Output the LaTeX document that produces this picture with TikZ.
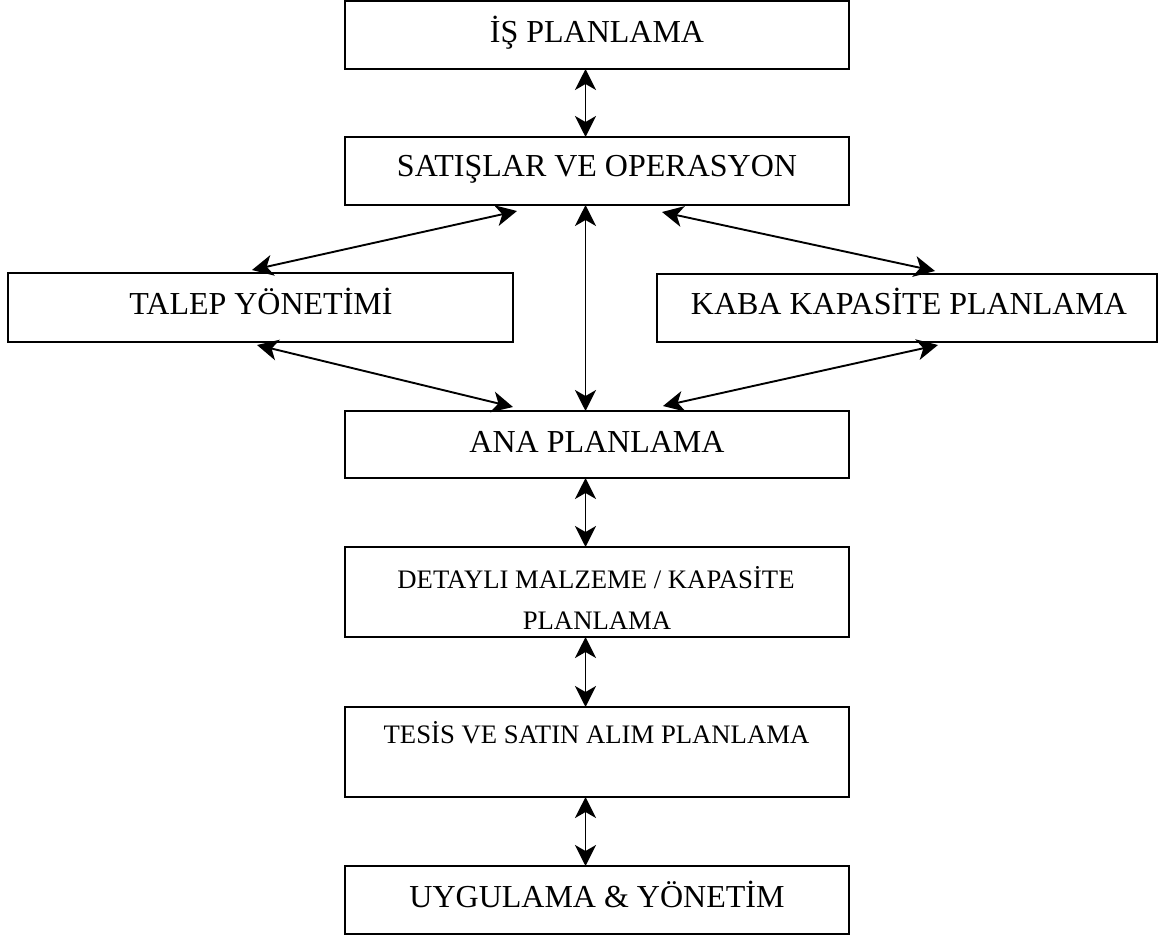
\documentclass[tikz,border=0pt]{standalone}
\usepackage{fontspec}
\setmainfont{Liberation Serif}
\usetikzlibrary{arrows.meta}
\begin{document}
\begin{tikzpicture}[x=1pt,y=-1pt,
  box/.style={draw, line width=2pt, inner sep=0pt, outer sep=0pt},
  lbl/.style={inner sep=0pt, anchor=base, font=\fontsize{32}{38}\selectfont},
  lblsmall/.style={inner sep=0pt, anchor=base, font=\fontsize{26.7}{32}\selectfont},
  tip/.style={Stealth[length=21pt,width=21pt,inset=6pt]},
  link/.style={line width=1.9pt, {Stealth[length=21pt,width=21pt,inset=6pt]}-{Stealth[length=21pt,width=21pt,inset=6pt]}}]
\useasboundingbox (0,0) rectangle (1158,940);

% boxes
\node[box, minimum width=504pt, minimum height=68pt] (is)   at (597,35)    {};
\node[box, minimum width=504pt, minimum height=68pt] (sat)  at (597,171)   {};
\node[box, minimum width=505pt, minimum height=69pt] (tal)  at (260.5,307.5) {};
\node[box, minimum width=500pt, minimum height=68pt] (kaba) at (907,308)   {};
\node[box, minimum width=504pt, minimum height=67pt] (ana)  at (597,444.5) {};
\node[box, minimum width=504pt, minimum height=90pt] (det)  at (597,592)   {};
\node[box, minimum width=504pt, minimum height=90pt] (tes)  at (597,752)   {};
\node[box, minimum width=504pt, minimum height=68pt] (uyg)  at (597,900)   {};

% labels
\node[lbl] (isT)   at (597,42)  {İŞ PLANLAMA};
\node[lbl] (satT)  at (597,176) {SATIŞLAR VE OPERASYON};
\node[lbl] (talT)  at (261,314) {TALEP YÖNETİMİ};
\node[lbl] (kabaT) at (909,314) {KABA KAPASİTE PLANLAMA};
\node[lbl] (anaT)  at (597,452) {ANA PLANLAMA};
\node[lblsmall] (detT1) at (596,588) {DETAYLI MALZEME / KAPASİTE};
\node[lblsmall] (detT2) at (597,629) {PLANLAMA};
\node[lblsmall] (tesT)  at (596.5,743) {TESİS VE SATIN ALIM PLANLAMA};
\node[lbl] (uygT)  at (597,907) {UYGULAMA \& YÖNETİM};

% vertical connectors
\draw[link] ([xshift=-11.5pt]is.south)  -- ([xshift=-11.5pt]sat.north);
\draw[link] ([xshift=-11.5pt]sat.south) -- ([xshift=-11.5pt]ana.north);
\draw[link] ([xshift=-11.5pt]ana.south) -- ([xshift=-11.5pt]det.north);
\draw[link] ([xshift=-11.5pt]det.south) -- ([xshift=-11.5pt]tes.north);
\draw[link] ([xshift=-11.5pt]tes.south) -- ([xshift=-11.5pt]uyg.north);

% diagonal connectors
\draw[link] ([xshift=-80pt,yshift=-6pt]sat.south) -- ([xshift=-8.5pt,yshift=3pt]tal.north);
\draw[link] ([xshift=65pt,yshift=-7pt]sat.south)  -- ([xshift=28pt,yshift=3pt]kaba.north);
\draw[link] ([xshift=-3.5pt,yshift=-3pt]tal.south) -- ([xshift=-84pt,yshift=4pt]ana.north);
\draw[link] ([xshift=31pt,yshift=-3pt]kaba.south)  -- ([xshift=66pt,yshift=5pt]ana.north);
\end{tikzpicture}
\end{document}
